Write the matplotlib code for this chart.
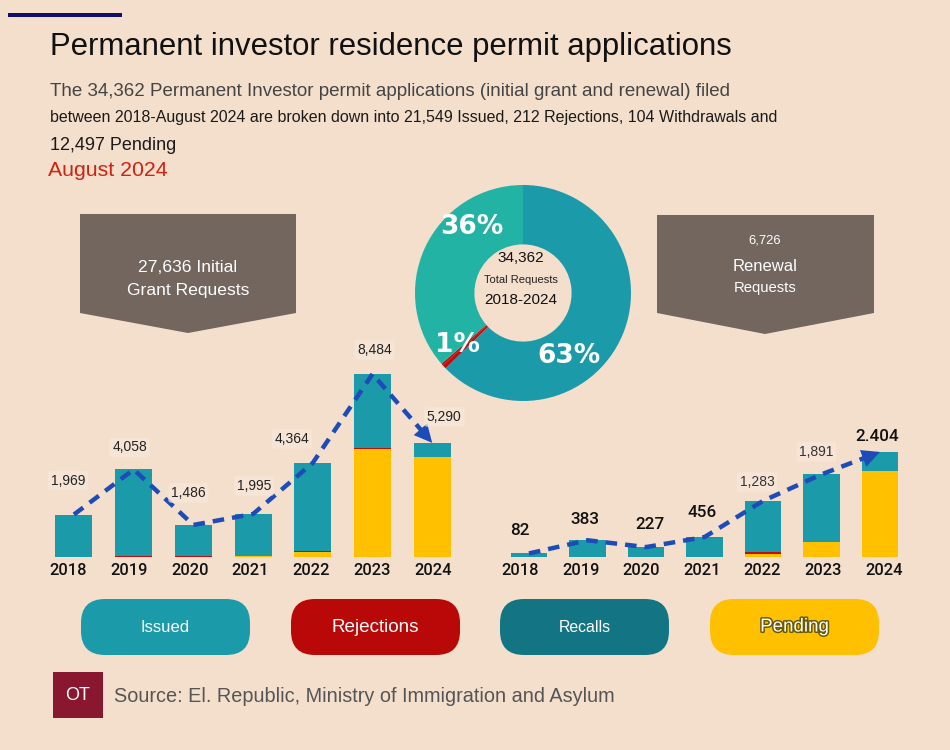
import matplotlib
matplotlib.use('Agg')
import matplotlib.pyplot as plt
from matplotlib.patches import FancyBboxPatch, Polygon, Rectangle
import matplotlib.patheffects as pe

# ---------------- data ----------------
years = ['2018', '2019', '2020', '2021', '2022', '2023', '2024']

initial_total = [1969, 4058, 1486, 1995, 4364, 8484, 5290]
initial_pending = [0, 0, 5, 60, 250, 5030, 4620]
initial_rejected = [10, 60, 30, 0, 40, 30, 20]
initial_issued = [1959, 3998, 1451, 1935, 4074, 3424, 650]

renewal_total = [82, 383, 227, 456, 1283, 1891, 2404]
renewal_labels = ['82', '383', '227', '456', '1,283', '1,891', '2.404']
renewal_pending = [0, 0, 0, 0, 80, 340, 1970]
renewal_rejected = [0, 0, 0, 0, 25, 0, 0]
renewal_issued = [82, 383, 227, 456, 1178, 1551, 434]

donut_names = ['Issued', 'Rejections', 'Withdrawals', 'Pending']
donut_values = [21549, 212, 104, 12497]
total_requests = 34362
initial_requests = 27636
renewal_requests = 6726

legend_names = ['Issued', 'Rejections', 'Recalls', 'Pending']

# ---------------- style ----------------
BG = '#f4dfcd'
TEAL = '#1b9aaa'
TEAL_LIGHT = '#22b3a5'
RED = '#c00d0d'
YELLOW = '#ffc000'
RECALL = '#137583'
LINE = '#1d4cb8'
BOXGRAY = '#72665f'
W, H = 950, 750

fig = plt.figure(figsize=(9.5, 7.5), dpi=100, facecolor=BG)
bg = fig.add_axes([0, 0, 1, 1])
bg.set_xlim(0, W)
bg.set_ylim(H, 0)
bg.axis('off')
bg.set_facecolor(BG)


def T(x, y, s, **kw):
    kw.setdefault('family', 'Liberation Sans')
    return fig.text(x / W, 1 - y / H, s, **kw)


# top rule
bg.add_patch(Rectangle((8, 12.5), 114, 4.5, color='#10106a', lw=0))

# titles
T(50, 55, 'Permanent investor residence permit applications', fontsize=22.4,
  color='#111111', va='baseline')
T(50, 96, 'The 34,362 Permanent Investor permit applications (initial grant and renewal) filed',
  fontsize=13.5, color='#444444', va='baseline')
T(50, 121.7, 'between 2018-August 2024 are broken down into 21,549 Issued, 212 Rejections, 104 Withdrawals and',
  fontsize=11.5, color='#1a1a1a', va='baseline')
T(50, 150, '12,497 Pending', fontsize=13, color='#1a1a1a', va='baseline')
T(48, 175.7, 'August 2024', fontsize=15.3, color='#d0220f', va='baseline')

# gray arrow boxes
bg.add_patch(Polygon([(80, 214), (296, 214), (296, 313), (188, 333), (80, 313)],
                     closed=True, fc=BOXGRAY, ec='none'))
bg.add_patch(Polygon([(657, 215), (874, 215), (874, 313), (765, 334), (657, 313)],
                     closed=True, fc=BOXGRAY, ec='none'))
T(188, 268, f'{initial_requests:,} Initial', fontsize=12.6, color='white', ha='center', va='center')
T(188, 290, 'Grant Requests', fontsize=12.6, color='white', ha='center', va='center')
T(765, 240, f'{renewal_requests:,}', fontsize=9.4, color='white', ha='center', va='center')
T(765, 266.5, 'Renewal', fontsize=12, color='white', ha='center', va='center')
T(765, 288, 'Requests', fontsize=10.7, color='white', ha='center', va='center')

# donut
dax = fig.add_axes([415 / W, 1 - 401 / H, 216 / W, 216 / H])
dax.pie(donut_values, colors=[TEAL, RED, RED, TEAL_LIGHT], startangle=90,
        counterclock=False, radius=1,
        wedgeprops=dict(width=0.55, linewidth=0))
dax.set_xlim(-1, 1)
dax.set_ylim(-1, 1)
dax.axis('off')
tot = sum(donut_values)
pct_issued = f'{donut_values[0] / tot:.0%}'
pct_rej = f'{(donut_values[1] + donut_values[2]) / tot:.0%}'
pct_pend = f'{donut_values[3] / tot:.0%}'
for (x, y, s) in [(472, 226.5, pct_pend), (457, 345, pct_rej), (569, 356, pct_issued)]:
    T(x, y, s, fontsize=19, weight='bold', color='white', ha='center', va='center',
      family='DejaVu Sans')
T(521, 258, f'{total_requests:,}', fontsize=11, color='#111111', ha='center', va='center')
T(521, 280, 'Total Requests', fontsize=8, color='#222222', ha='center', va='center')
T(521, 300, '2018-2024', fontsize=11, color='#111111', ha='center', va='center')


# bar charts
def bar_panel(rect, ymax, pending, rejected, issued, totals, width, tick0, tickstep):
    ax = fig.add_axes(rect)
    ax.patch.set_alpha(0)
    x = list(range(len(years)))
    ax.bar(x, pending, width=width, color=YELLOW, lw=0)
    ax.bar(x, rejected, width=width, bottom=pending, color=RED, lw=0)
    bottom2 = [p + r for p, r in zip(pending, rejected)]
    ax.bar(x, issued, width=width, bottom=bottom2, color=TEAL, lw=0)
    ax.set_xlim(-0.5, len(years) - 0.5)
    ax.set_ylim(0, ymax)
    for s in ax.spines.values():
        s.set_visible(False)
    ax.set_yticks([])
    ax.set_xticks([tick0 + tickstep * i for i in x])
    ax.set_xticklabels(years, family='Roboto', weight='medium', fontsize=11.8, color='#111111')
    ax.tick_params(axis='x', length=0, pad=4)
    # dashed trend line with arrow
    n = len(years)
    f = 0.12
    xs = x[:-1] + [n - 1 - f * 0.6]
    ys = totals[:-1] + [totals[-1] + f * 0.6 * (totals[-2] - totals[-1])]
    ax.plot(xs, ys, color=LINE, lw=3.2, dashes=(2.6, 1.8), dash_capstyle='butt',
            solid_capstyle='butt', zorder=5, clip_on=False)
    ax.annotate('', xy=(n - 1, totals[-1]),
                xytext=(n - 1 - f, totals[-1] + f * (totals[-2] - totals[-1])),
                arrowprops=dict(arrowstyle='-|>,head_length=0.65,head_width=0.32',
                                color=LINE, lw=0, mutation_scale=20,
                                shrinkA=0, shrinkB=0), zorder=6, annotation_clip=False)
    return ax


axL = bar_panel([44.1 / W, 193 / H, 418 / W, 215.7 / H], 10000,
                initial_pending, initial_rejected, initial_issued, initial_total, 0.62,
                -0.1, 1.019)
axR = bar_panel([499.75 / W, 193 / H, 409.5 / W, 131.1 / H], 3000,
                renewal_pending, renewal_rejected, renewal_issued, renewal_total, 0.63,
                -0.154, 1.036)

left_offsets = [(-6, 34), (-4, 22), (-5, 32), (1, 28), (-21, 24), (2, 24), (12, 26)]
for i, (v, (dx, dy)) in enumerate(zip(initial_total, left_offsets)):
    axL.annotate(f'{v:,}', xy=(i, v), xytext=(dx, dy), textcoords='offset pixels',
                 ha='center', va='center', fontsize=10, color='#222222',
                 family='Liberation Sans', zorder=7,
                 bbox=dict(boxstyle='round,pad=0.2', fc='#f7e7da', ec='none', alpha=0.7))

right_offsets = [(-9, 23), (-2.5, 21), (4, 23), (-2.5, 25), (-6, 19), (-5, 22.6), (-3, 15)]
right_big = [True, True, True, True, False, False, True]
for i, (v, lab, (dx, dy), big) in enumerate(zip(renewal_total, renewal_labels, right_offsets, right_big)):
    if big:
        kw = dict(fontsize=12.3, color='#111111', family='Roboto', weight='medium')
    else:
        kw = dict(fontsize=10, color='#333333', family='Liberation Sans',
                  bbox=dict(boxstyle='round,pad=0.2', fc='#f7e7da', ec='none', alpha=0.7))
    axR.annotate(lab, xy=(i, v), xytext=(dx, dy), textcoords='offset pixels',
                 ha='center', va='center', zorder=7, **kw)

# legend pills
pill_x = [81, 291, 500, 710]
pill_colors = [TEAL, '#b80808', RECALL, YELLOW]
pill_sizes = [12, 13.6, 11.4, 13.5]
for name, x0, c, fs in zip(legend_names, pill_x, pill_colors, pill_sizes):
    bg.add_patch(FancyBboxPatch((x0, 599), 169, 56,
                                boxstyle='round,pad=0,rounding_size=24',
                                fc=c, ec='none'))
    t = T(x0 + 84.5, 627, name, fontsize=fs, color='white', ha='center', va='center')
    if name == 'Pending':
        t.set_path_effects([pe.withStroke(linewidth=2.2, foreground='#6b5a00')])

# source
bg.add_patch(Rectangle((53, 672), 50, 46, color='#8a1730', lw=0))
T(78, 695, 'OT', fontsize=13, color='white', ha='center', va='center')
T(114, 702, 'Source: El. Republic, Ministry of Immigration and Asylum', fontsize=14.3,
  color='#555555', va='baseline')

fig.savefig('out.png', dpi=100, facecolor=BG)
